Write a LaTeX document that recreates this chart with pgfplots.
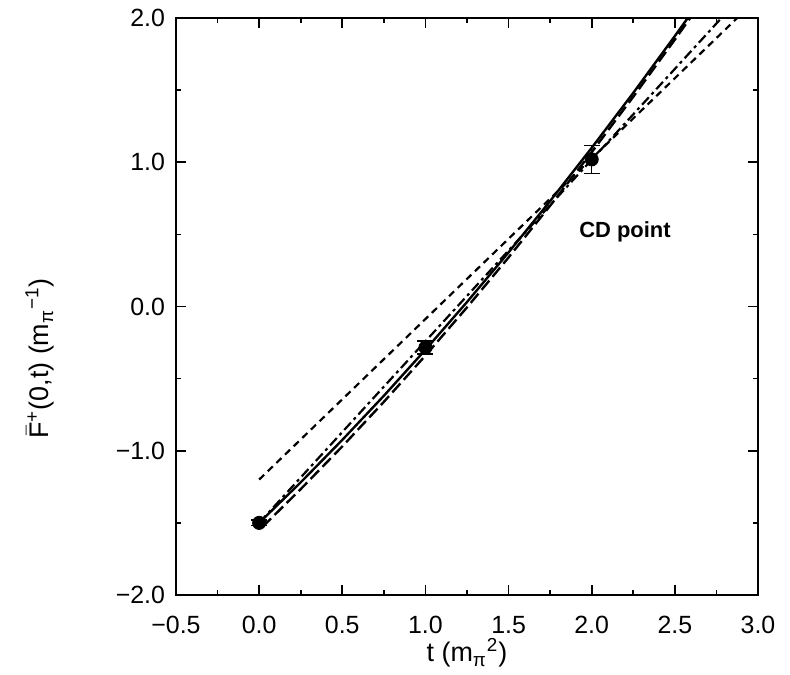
\documentclass[border=0pt]{standalone}
\usepackage{fontspec}
\setmainfont{Liberation Sans}
\usepackage{amsmath}
\usepackage{pgfplots}
\pgfplotsset{compat=1.18}

\begin{document}
\begin{tikzpicture}
\begin{axis}[
  scale only axis,
  width=291bp, height=288.5bp,
  xmin=-0.5, xmax=3.0, ymin=-2.0, ymax=2.0,
  xtick={-0.5,0,0.5,1,1.5,2,2.5,3},
  xticklabels={−0.5,0.0,0.5,1.0,1.5,2.0,2.5,3.0},
  ytick={-2,-1,0,1,2},
  yticklabels={−2.0,−1.0,0.0,1.0,2.0},
  minor x tick num=1, minor y tick num=1,
  tick align=inside,
  major tick length=5bp, minor tick length=2.5bp,
  every tick/.style={black, line width=0.8pt},
  axis line style={line width=1pt},
  ticklabel style={font=\fontsize{12.5}{15}\selectfont},
  xticklabel style={yshift=-7bp},
  yticklabel style={xshift=-2bp},
  label style={font=\fontsize{13.5}{16}\selectfont},
  xlabel={t (m\textsubscript{π}\textsuperscript{2})},
  xlabel style={at={(axis description cs:0.5,0)}, anchor=center, yshift=-29bp},
  ylabel={$\bar{\text{F}}$\textsuperscript{+}(0,t) (m\textsubscript{π}\textsuperscript{−1})},
  ylabel style={at={(axis description cs:-0.234,0.41)}, anchor=center},
]
% solid
\addplot[black, line width=1.2pt] coordinates {
  (0,-1.5)(0.25,-1.219)(0.5,-0.925)(0.75,-0.619)(1.0,-0.3)(1.25,0.031)
  (1.5,0.375)(1.75,0.731)(2.0,1.1)(2.25,1.481)(2.5,1.875)(2.6,2.036)};
% long dashed
\addplot[black, line width=1.2pt, dash pattern=on 6bp off 2.5bp] coordinates {
  (0.02,-1.528)(0.25,-1.266)(0.5,-0.97)(0.75,-0.661)(1.0,-0.34)(1.25,-0.006)
  (1.5,0.34)(1.75,0.699)(2.0,1.07)(2.25,1.454)(2.5,1.85)(2.62,2.045)};
% dash dot
\addplot[black, line width=1.1pt, dash pattern=on 5bp off 2bp on 1.5bp off 2bp] coordinates {
  (0,-1.5)(2.82,2.05)};
% short dashed
\addplot[black, line width=1.1pt, dash pattern=on 3.5bp off 2.5bp] coordinates {
  (0,-1.2)(2.92,2.05)};
% data
\addplot[black, only marks, mark=*, mark size=3.3bp,
  error bars/.cd, y dir=both, y explicit,
  error mark options={rotate=90, mark size=4bp, line width=0.7pt},
  error bar style={line width=0.7pt}]
  coordinates {
  (0,-1.5) +- (0,0.02)
  (1,-0.285) +- (0,0.045)
  (2,1.02) +- (0,0.097)};
\node[font=\fontsize{11}{13}\bfseries\selectfont] at (axis cs:2.2,0.52) {CD point};
\end{axis}
\pgfresetboundingbox
\path (current axis.south west) +(-88bp,-40bp) (current axis.north east) +(16bp,9bp);
\end{tikzpicture}
\end{document}
